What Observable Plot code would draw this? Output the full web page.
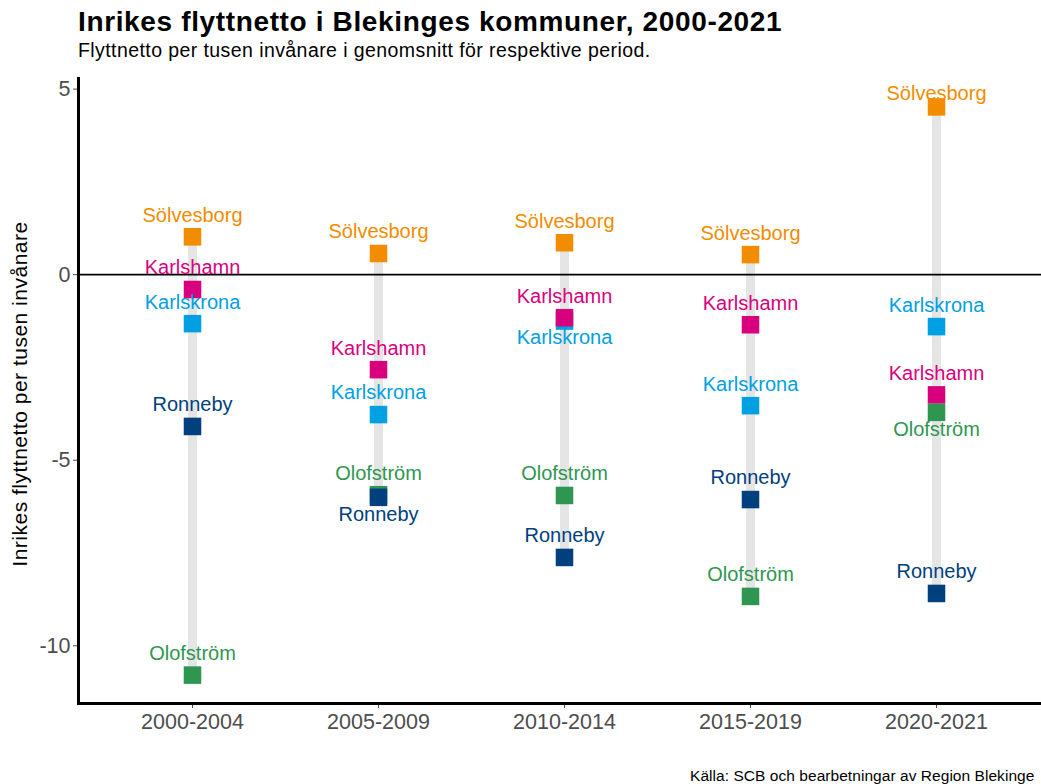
<!DOCTYPE html>
<html><head><meta charset="utf-8">
<script src="https://cdn.jsdelivr.net/npm/d3@7"></script>
<script src="https://cdn.jsdelivr.net/npm/@observablehq/plot@0.6"></script>
<style>
html,body{margin:0;padding:0;background:#fff;overflow:hidden;width:1041px;height:784px;}
#wrap{position:relative;width:1041px;height:784px;overflow:hidden;font-family:"Liberation Sans",Arial,sans-serif;}
.t{position:absolute;white-space:nowrap;line-height:1;color:#000;}
#title{left:78px;top:8px;font-size:28px;font-weight:bold;letter-spacing:0.64px;}
#subtitle{left:78px;top:41px;font-size:19.5px;letter-spacing:0.42px;}
#caption{left:690px;top:767.5px;font-size:15.5px;letter-spacing:0.05px;}
#ylab{left:19px;top:394px;font-size:21px;letter-spacing:0.5px;transform:translate(-50%,-50%) rotate(-90deg);}
#chart{position:absolute;left:0;top:0;}
#chart svg{max-width:none !important;}
</style></head><body>
<div id="wrap">
<div id="chart"></div>
<div class="t" id="title">Inrikes flyttnetto i Blekinges kommuner, 2000-2021</div>
<div class="t" id="subtitle">Flyttnetto per tusen invånare i genomsnitt för respektive period.</div>
<div class="t" id="ylab">Inrikes flyttnetto per tusen invånare</div>
<div class="t" id="caption">Källa: SCB och bearbetningar av Region Blekinge</div>
</div>
<script>
// ---- data ----
const periods = ["2000-2004", "2005-2009", "2010-2014", "2015-2019", "2020-2021"];
const kommuner = ["Karlskrona", "Karlshamn", "Olofström", "Ronneby", "Sölvesborg"];
const kommunColors = ["#00A0E2", "#D9007E", "#2E9650", "#00407E", "#F28C00"];
const karlskrona = [-1.32, -3.77, -1.25, -3.53, -1.40];
const karlshamn  = [-0.40, -2.56, -1.16, -1.35, -3.24];
const olofstrom  = [-10.79, -5.93, -5.95, -8.67, -3.71];
const ronneby    = [-4.09, -6.00, -7.62, -6.06, -8.59];
const solvesborg = [1.02, 0.57, 0.86, 0.54, 4.52];
const yTicks = [-10, -5, 0, 5];

const seriesByKommun = {
  "Karlskrona": karlskrona, "Karlshamn": karlshamn, "Olofström": olofstrom,
  "Ronneby": ronneby, "Sölvesborg": solvesborg
};
const data = [];
kommuner.forEach(k => periods.forEach((p, i) => data.push({period: p, kommun: k, value: seriesByKommun[k][i]})));

// ranges per period
const ranges = periods.map(p => {
  const vals = data.filter(d => d.period === p).map(d => d.value);
  return {period: p, lo: d3.min(vals), hi: d3.max(vals)};
});

// layout
const W = 1050, H = 784, mT = 78, mB = 81, mL = 78, mR = 0;
const ext = d3.extent(data, d => d.value);
const pad = (ext[1] - ext[0]) * 0.05;
const yDomain = [ext[0] - pad, ext[1] + pad];
const ppu = (H - mT - mB) / (yDomain[1] - yDomain[0]);

// label placement (above, or below when crowded by the point above)
const labels = [];
periods.forEach(p => {
  const pts = data.filter(d => d.period === p).sort((a, b) => b.value - a.value);
  pts.forEach((d, j) => {
    const prev = pts[j - 1];
    const below = prev && (prev.value - d.value) < 0.7;
    let ly = below ? d.value - 17 / ppu : d.value + 21.5 / ppu;
    ly = Math.min(ly, yDomain[1] - 15 / ppu);
    labels.push({...d, ly});
  });
});

const font = "Liberation Sans, Arial, sans-serif";
const chart = Plot.plot({
  width: W, height: H,
  marginTop: mT, marginBottom: mB, marginLeft: mL, marginRight: mR,
  style: {fontFamily: font, background: "transparent", overflow: "visible"},
  x: {type: "point", domain: periods, padding: 0.6, label: null},
  y: {domain: yDomain, label: null},
  color: {domain: kommuner, range: kommunColors},
  marks: [
    Plot.ruleX(ranges, {x: "period", y1: "lo", y2: "hi", stroke: "#E5E5E5", strokeWidth: 9}),
    Plot.ruleY([0], {stroke: "#000", strokeWidth: 1.6}),
    Plot.dot(data, {x: "period", y: "value", fill: "kommun", symbol: "square", r: 9.9}),
    Plot.text(labels, {x: "period", y: "ly", text: "kommun", fill: "kommun", fontSize: 20, lineAnchor: "middle"}),
    Plot.axisY({ticks: yTicks, tickFormat: d => String(d), tickSize: 5, tickPadding: 3, fontSize: 21.5, color: "#4d4d4d", label: null}),
    Plot.axisX({tickSize: 5, tickPadding: 5, fontSize: 21.5, color: "#4d4d4d", label: null}),
    Plot.frame({anchor: "left", stroke: "#000", strokeWidth: 3}),
    Plot.frame({anchor: "bottom", stroke: "#000", strokeWidth: 3})
  ]
});
chart.style.maxWidth = "none";
chart.style.width = W + "px";
chart.style.height = H + "px";
document.getElementById("chart").appendChild(chart);
</script>
</body></html>
